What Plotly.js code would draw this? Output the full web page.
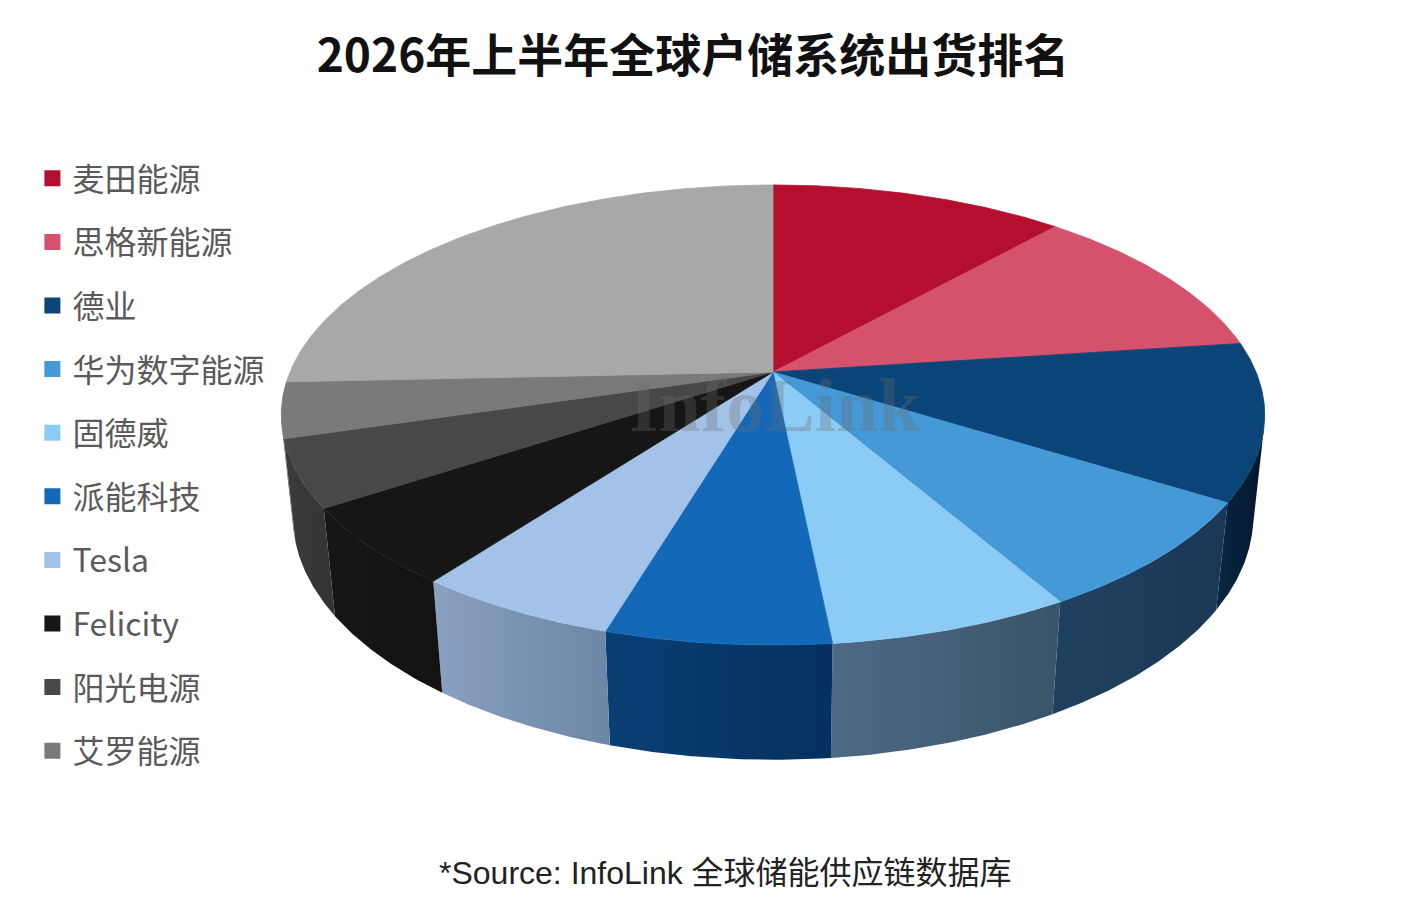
<!DOCTYPE html>
<html>
<head>
<meta charset="utf-8">
<script src="https://cdn.plot.ly/plotly-3.0.1.min.js"></script>
<style>html,body{margin:0;padding:0;background:#fff;}#chart{width:1408px;height:920px;}</style>
</head>
<body>
<div id="chart"></div>
<script>
// ---- data ----
const companies = ['麦田能源','思格新能源','德业','华为数字能源','固德威','派能科技','Tesla','Felicity','阳光电源','艾罗能源'];
const shares = [11.6, 11.3, 11.0, 7.8, 6.7, 6.2, 5.6, 5.5, 4.7, 3.9];
const otherLabel = '其他';
const otherShare = 25.7;
const topColors = ['#b50f2f','#d5526c','#0b4577','#4499d6','#8ccbf5','#1468b8','#a3c2e8','#161616','#484848','#7a7a7a','#a8a8a8'];
const wallLeft  = ['#8a0a22','#a03a50','#0a2744','#1f4160','#4e6a85','#0a3f74','#8aa0c0','#161616','#3c3c3c','#5a5a5a','#7a7a7a'];
const wallRight = ['#70081c','#802c40','#02162b','#1a3856','#3a5468','#04315f','#6c86a6','#121212','#333333','#505050','#707070'];
const titleText = '2026年上半年全球户储系统出货排名';
const sourceText = '*Source: InfoLink 全球储能供应链数据库';

// ---- projection (3D pie seen in perspective) ----
const cx = 773, cy = 372;
const sinP = 0.4596, cosP = 0.8881;
const D0 = 4.749, F = 2294, H = 0.238;
const dCam = D0 * cosP;
function proj(x, y, z) {
  const D = D0 - y * sinP - z * cosP;
  return [cx + F * x / D, cy - F * (y * cosP - z * sinP) / D];
}
function pt(theta, y) { // theta clockwise from back, degrees
  const t = theta * Math.PI / 180;
  return proj(Math.sin(t), y, -Math.cos(t));
}

const labels = companies.concat([otherLabel]);
const values = shares.concat([otherShare]);
const total = values.reduce((a, b) => a + b, 0);
const starts = [], ends = [];
let acc = 0;
values.forEach(v => { starts.push(acc / total * 360); acc += v; ends.push(acc / total * 360); });

// visible wall range: z > 1/d
const visMin = Math.acos(-1 / dCam) * 180 / Math.PI;
const visMax = 360 - visMin;

const traces = [];
// walls
values.forEach((v, i) => {
  const a0 = Math.max(starts[i], visMin), a1 = Math.min(ends[i], visMax);
  if (a1 <= a0) return;
  const xs = [], ys = [];
  const n = Math.max(2, Math.ceil((a1 - a0) / 0.5));
  for (let j = 0; j <= n; j++) { const p = pt(a0 + (a1 - a0) * j / n, 0); xs.push(p[0]); ys.push(p[1]); }
  for (let j = n; j >= 0; j--) { const p = pt(a0 + (a1 - a0) * j / n, -H); xs.push(p[0]); ys.push(p[1]); }
  xs.push(xs[0]); ys.push(ys[0]);
  traces.push({
    type: 'scatter', mode: 'lines', x: xs, y: ys, fill: 'toself',
    fillcolor: wallLeft[i],
    fillgradient: {type: 'horizontal', colorscale: [[0, wallLeft[i]], [1, wallRight[i]]]},
    line: {width: 0}, hoverinfo: 'skip', showlegend: false
  });
});
// top faces
values.forEach((v, i) => {
  const a0 = starts[i], a1 = ends[i];
  const c = proj(0, 0, 0);
  const xs = [c[0]], ys = [c[1]];
  const n = Math.max(2, Math.ceil((a1 - a0) / 0.5));
  for (let j = 0; j <= n; j++) { const p = pt(a0 + (a1 - a0) * j / n, 0); xs.push(p[0]); ys.push(p[1]); }
  xs.push(c[0]); ys.push(c[1]);
  traces.push({
    type: 'scatter', mode: 'lines', x: xs, y: ys, fill: 'toself',
    fillcolor: topColors[i], line: {width: 0.8, color: topColors[i]},
    name: labels[i], hoverinfo: 'name', showlegend: false
  });
});
// legend entries
companies.forEach((name, i) => {
  traces.push({
    type: 'scatter', mode: 'markers', x: [null], y: [null], name: name,
    legendgroup: 'g' + i,
    marker: {symbol: 'square', size: 16, color: topColors[i]}, showlegend: true
  });
});

const layout = {
  width: 1408, height: 920,
  margin: {l: 0, r: 0, t: 0, b: 0},
  paper_bgcolor: '#ffffff', plot_bgcolor: '#ffffff',
  font: {family: '"Noto Sans CJK SC", "Noto Sans", sans-serif', color: '#555555'},
  title: {text: '<b>' + titleText + '</b>', x: 693 / 1408, xanchor: 'center', y: 1 - 56 / 920, yanchor: 'middle',
          font: {family: '"Noto Sans CJK SC", sans-serif', size: 46, color: '#111111'}},
  xaxis: {range: [0, 1408], visible: false, fixedrange: true},
  yaxis: {range: [920, 0], visible: false, fixedrange: true},
  showlegend: true,
  legend: {x: 0.023, xanchor: 'left', y: 1 - 151 / 920, yanchor: 'top', orientation: 'v',
           font: {size: 32, color: '#5a5a5a'}, tracegroupgap: 19, bgcolor: 'rgba(0,0,0,0)',
           itemclick: false, itemdoubleclick: false},
  annotations: [
    {text: '<b>InfoLink</b>', xref: 'x', yref: 'y', x: 775, y: 405, showarrow: false,
     font: {family: '"Liberation Serif", "DejaVu Serif", serif', size: 76, color: 'rgba(110,110,110,0.3)'}},
    {text: sourceText, xref: 'paper', yref: 'paper', x: 725 / 1408, y: 1 - 873 / 920, xanchor: 'center', yanchor: 'middle',
     showarrow: false, font: {family: '"Liberation Sans", "Noto Sans CJK SC", sans-serif', size: 32, color: '#222222'}}
  ]
};
Plotly.newPlot('chart', traces, layout, {displayModeBar: false});
</script>
</body>
</html>
